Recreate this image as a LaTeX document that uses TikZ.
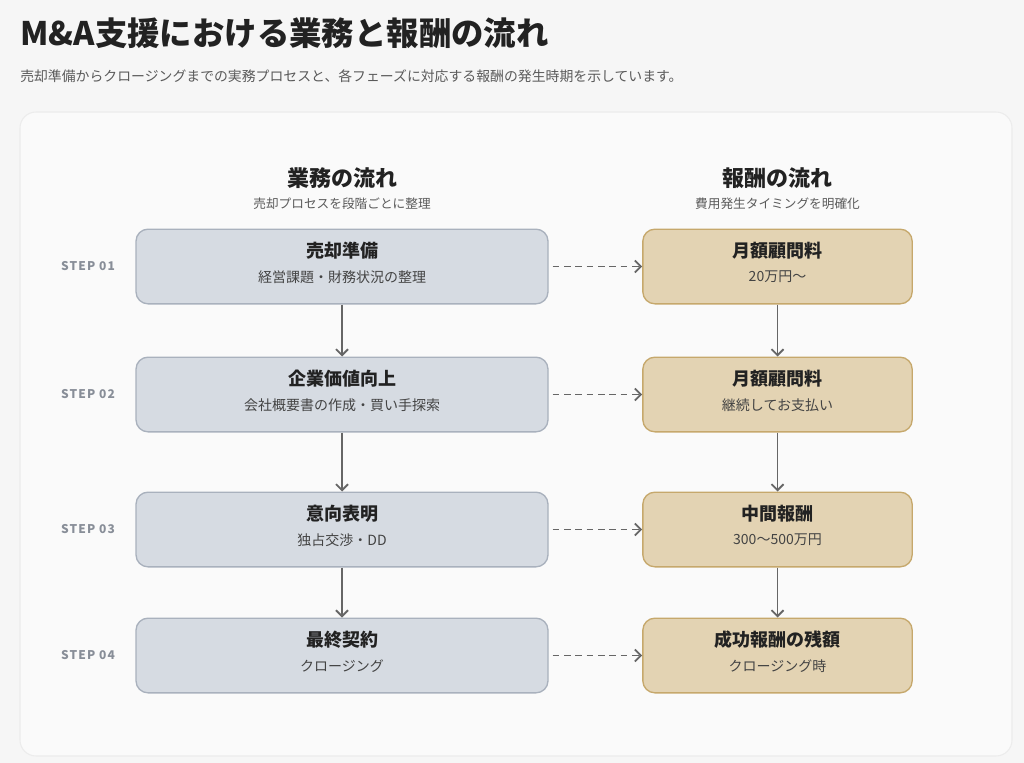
\documentclass[tikz,border=0pt]{standalone}
\usepackage{fontspec}
\setmainfont{Noto Sans CJK JP}
\usetikzlibrary{arrows.meta}
\definecolor{outerbg}{HTML}{F6F6F6}
\definecolor{panelbg}{HTML}{FAFAFA}
\definecolor{panelline}{HTML}{ECECEC}
\definecolor{leftfill}{HTML}{D6DBE2}
\definecolor{leftline}{HTML}{A9B1BD}
\definecolor{rightfill}{HTML}{E3D3B3}
\definecolor{rightline}{HTML}{C6A86C}
\definecolor{arrowc}{HTML}{666666}
\definecolor{titlec}{HTML}{222222}
\definecolor{subc}{HTML}{5A5A5A}
\definecolor{stepc}{HTML}{888E98}
\tikzset{
  leftbox/.style={draw=leftline, fill=leftfill, line width=1pt, rounded corners=9pt, minimum width=309pt, minimum height=56pt, inner sep=0pt},
  rightbox/.style={draw=rightline, fill=rightfill, line width=1pt, rounded corners=9pt, minimum width=202pt, minimum height=56pt, inner sep=0pt},
  boxtitle/.style={font=\fontsize{13.5pt}{16pt}\selectfont\bfseries, text=titlec, inner sep=0pt},
  boxsub/.style={font=\fontsize{10.5pt}{13pt}\selectfont, text=titlec!85, inner sep=0pt},
  colhead/.style={font=\fontsize{16.5pt}{19pt}\selectfont\bfseries, text=titlec, inner sep=0pt},
  colsub/.style={font=\fontsize{9.5pt}{12pt}\selectfont, text=subc, inner sep=0pt},
  steplabel/.style={font=\fontsize{9pt}{11pt}\selectfont\bfseries\addfontfeatures{LetterSpace=9}, text=stepc, inner sep=0pt},
  flow/.style={draw=arrowc, line width=1.4pt, -{Straight Barb[length=4.5pt,width=9pt,line width=1.4pt]}},
  feeflow/.style={draw=arrowc, line width=1.4pt, dash pattern=on 5pt off 3.5pt, -{Straight Barb[length=4.5pt,width=9pt,line width=1.4pt]}}
}
\begin{document}
\begin{tikzpicture}[x=0.75pt,y=-0.75pt]
\useasboundingbox (0,0) rectangle (1024,763);
\fill[outerbg] (0,0) rectangle (1024,763);
\draw[panelline, fill=panelbg, line width=0.8pt, rounded corners=12pt] (20,112) rectangle (1012,756);

\node[anchor=base west, inner sep=0pt, font=\fontsize{24.3pt}{28pt}\selectfont\bfseries, text=titlec] (title) at (20,46) {M\&A支援における業務と報酬の流れ};
\node[anchor=base west, inner sep=0pt, font=\fontsize{10.4pt}{13pt}\selectfont, text=subc] (subtitle) at (20,82) {売却準備からクロージングまでの実務プロセスと、各フェーズに対応する報酬の発生時期を示しています。};

\node[colhead] (lh) at (342,178) {業務の流れ};
\node[colsub] (ls) at (342,204) {売却プロセスを段階ごとに整理};
\node[colhead] (rh) at (777.5,178) {報酬の流れ};
\node[colsub] (rs) at (777.5,204) {費用発生タイミングを明確化};

% left boxes
\node[leftbox] (l1) at (342,266.5) {};
\node[leftbox] (l2) at (342,394.5) {};
\node[leftbox] (l3) at (342,529.5) {};
\node[leftbox] (l4) at (342,655.5) {};
% right boxes
\node[rightbox] (r1) at (777.5,266.5) {};
\node[rightbox] (r2) at (777.5,394.5) {};
\node[rightbox] (r3) at (777.5,529.5) {};
\node[rightbox] (r4) at (777.5,655.5) {};

% texts
\node[boxtitle] (l1t) at (342,251) {売却準備};
\node[boxsub] (l1s) at (342,277) {経営課題・財務状況の整理};
\node[boxtitle] (l2t) at (342,379) {企業価値向上};
\node[boxsub] (l2s) at (342,405) {会社概要書の作成・買い手探索};
\node[boxtitle] (l3t) at (342,514) {意向表明};
\node[boxsub] (l3s) at (342,540) {独占交渉・DD};
\node[boxtitle] (l4t) at (342,640) {最終契約};
\node[boxsub] (l4s) at (342,666) {クロージング};

\node[boxtitle] (r1t) at (777.5,251) {月額顧問料};
\node[boxsub] (r1s) at (777.5,277) {20万円〜};
\node[boxtitle] (r2t) at (777.5,379) {月額顧問料};
\node[boxsub] (r2s) at (777.5,405) {継続してお支払い};
\node[boxtitle] (r3t) at (777.5,514) {中間報酬};
\node[boxsub] (r3s) at (777.5,540) {300〜500万円};
\node[boxtitle] (r4t) at (777.5,640) {成功報酬の残額};
\node[boxsub] (r4s) at (777.5,666) {クロージング時};

% step labels
\node[steplabel] (s1) at (88,266.5) {STEP 01};
\node[steplabel] (s2) at (88,394.5) {STEP 02};
\node[steplabel] (s3) at (88,529.5) {STEP 03};
\node[steplabel] (s4) at (88,655.5) {STEP 04};

% arrows
\draw[flow] (l1.south) -- (l2.north);
\draw[flow] (l2.south) -- (l3.north);
\draw[flow] (l3.south) -- (l4.north);
\draw[flow] (r1.south) -- (r2.north);
\draw[flow] (r2.south) -- (r3.north);
\draw[flow] (r3.south) -- (r4.north);
\draw[feeflow, shorten <=3pt] (l1.east) -- (r1.west);
\draw[feeflow, shorten <=3pt] (l2.east) -- (r2.west);
\draw[feeflow, shorten <=3pt] (l3.east) -- (r3.west);
\draw[feeflow, shorten <=3pt] (l4.east) -- (r4.west);
\end{tikzpicture}
\end{document}
